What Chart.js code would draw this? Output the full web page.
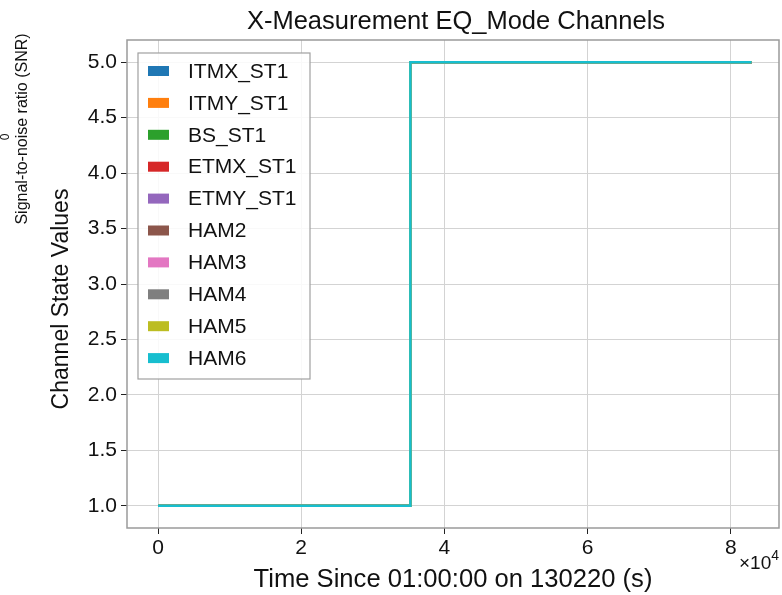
<!DOCTYPE html>
<html>
<head>
<meta charset="utf-8">
<script src="https://cdn.jsdelivr.net/npm/chart.js@4.4.0/dist/chart.umd.min.js"></script>
<style>
html,body{margin:0;padding:0;background:#fff;}
#wrap{width:782px;height:595px;position:relative;}
</style>
</head>
<body>
<div id="wrap"><canvas id="c" width="782" height="595"></canvas></div>
<script>
// ---- data ----
const channels = ["ITMX_ST1","ITMY_ST1","BS_ST1","ETMX_ST1","ETMY_ST1","HAM2","HAM3","HAM4","HAM5","HAM6"];
const colors = ["#1f77b4","#ff7f0e","#2ca02c","#d62728","#9467bd","#8c564b","#e377c2","#7f7f7f","#bcbd22","#17becf"];
const times = [0, 35250, 35250, 82900];   // seconds since 01:00:00
const stateValues = [1, 1, 5, 5];         // identical for every channel
const xTicks = [0, 20000, 40000, 60000, 80000];
const yTicks = [1.0, 1.5, 2.0, 2.5, 3.0, 3.5, 4.0, 4.5, 5.0];

const FONT = "'Liberation Sans', Arial, Helvetica, sans-serif";

const datasets = channels.map((name, i) => ({
  label: name,
  data: times.map((t, k) => ({x: t, y: stateValues[k]})),
  borderColor: colors[i],
  backgroundColor: colors[i],
  borderWidth: 2.5,
  pointRadius: 0,
  fill: false,
  tension: 0,
  order: channels.length - i
}));

const decor = {
  id: 'decor',
  afterDraw(chart) {
    const ctx = chart.ctx;
    const a = chart.chartArea;
    ctx.save();
    // frame
    ctx.strokeStyle = '#9a9a9a';
    ctx.lineWidth = 1.5;
    ctx.strokeRect(a.left, a.top, a.right - a.left, a.bottom - a.top);
    // title
    ctx.fillStyle = '#111';
    ctx.textAlign = 'center';
    ctx.textBaseline = 'middle';
    ctx.font = '25.5px ' + FONT;
    ctx.fillText('X-Measurement EQ_Mode Channels', 456, 22);
    // x title
    ctx.font = '25.6px ' + FONT;
    ctx.fillText('Time Since 01:00:00 on 130220 (s)', 453, 580);
    // offset text x10^4
    ctx.textAlign = 'right';
    ctx.font = '14px ' + FONT;
    ctx.fillText('4', 779, 556);
    const w4 = ctx.measureText('4').width;
    ctx.font = '19px ' + FONT;
    ctx.fillText('\u00d710', 779 - w4, 564);
    // y title
    ctx.save();
    ctx.translate(62, 299);
    ctx.rotate(-Math.PI / 2);
    ctx.textAlign = 'center';
    ctx.font = '23px ' + FONT;
    ctx.fillText('Channel State Values', 0, 0);
    ctx.restore();
    // SNR label
    ctx.save();
    ctx.translate(23, 129);
    ctx.rotate(-Math.PI / 2);
    ctx.textAlign = 'center';
    ctx.font = '16px ' + FONT;
    ctx.fillText('Signal-to-noise ratio (SNR)', 0, 0);
    ctx.restore();
    ctx.save();
    ctx.translate(6, 137);
    ctx.rotate(-Math.PI / 2);
    ctx.textAlign = 'center';
    ctx.font = '12px ' + FONT;
    ctx.fillText('0', 0, 0);
    ctx.restore();
    // legend
    const lx = 138, ly = 53, lw = 172, lh = 326;
    ctx.fillStyle = 'rgba(255,255,255,0.85)';
    ctx.fillRect(lx, ly, lw, lh);
    ctx.strokeStyle = '#a0a0a0';
    ctx.lineWidth = 1.2;
    ctx.strokeRect(lx, ly, lw, lh);
    ctx.textAlign = 'left';
    ctx.textBaseline = 'middle';
    ctx.font = '21px ' + FONT;
    channels.forEach((name, i) => {
      const cy = 71 + i * 31.9;
      ctx.fillStyle = colors[i];
      ctx.fillRect(148, cy - 5, 21, 10);
      ctx.fillStyle = '#111';
      ctx.fillText(name, 188, cy + 1);
    });
    ctx.restore();
  }
};

new Chart(document.getElementById('c'), {
  type: 'line',
  data: { datasets },
  options: {
    responsive: false,
    animation: false,
    layout: { padding: { top: 40, right: 3, left: 0, bottom: 0 } },
    plugins: { legend: { display: false }, tooltip: { enabled: false }, title: { display: false } },
    scales: {
      x: {
        type: 'linear',
        min: -4330, max: 86730,
        afterFit(s) { s.height = 595 - 528; },
        afterBuildTicks(s) { s.ticks = xTicks.map(v => ({value: v})); },
        ticks: { color: '#111', font: { family: FONT, size: 21 }, padding: 2,
                 callback: v => String(v / 10000), maxRotation: 0, autoSkip: false },
        grid: { color: '#d3d3d3', lineWidth: 1, tickColor: '#222', tickLength: 6, drawTicks: true },
        border: { display: false }
      },
      y: {
        type: 'linear',
        min: 0.8, max: 5.2,
        afterFit(s) { s.width = 127; },
        afterBuildTicks(s) { s.ticks = yTicks.map(v => ({value: v})); },
        ticks: { color: '#111', font: { family: FONT, size: 21 }, padding: 4, autoSkip: false,
                 callback: v => Number(v).toFixed(1) },
        grid: { color: '#d3d3d3', lineWidth: 1, tickColor: '#222', tickLength: 6, drawTicks: true },
        border: { display: false }
      }
    }
  },
  plugins: [decor]
});
</script>
</body>
</html>
